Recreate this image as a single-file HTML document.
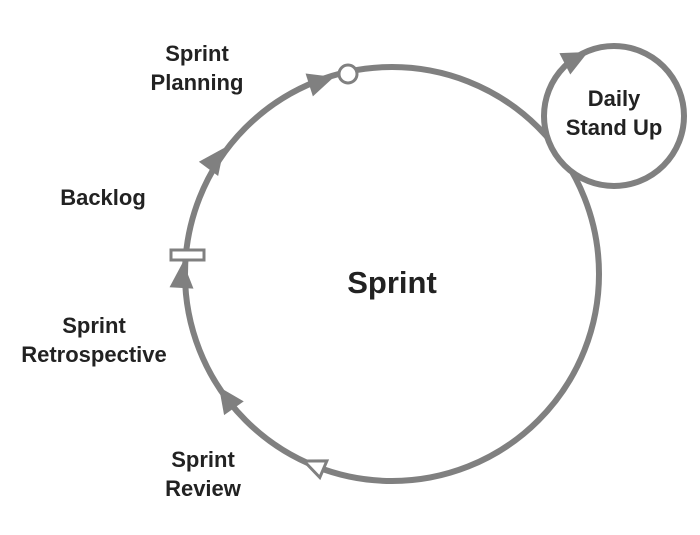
<!DOCTYPE html>
<html><head><style>
body{margin:0;background:#fff}
svg{display:block}
text{font-family:"Liberation Sans","DejaVu Sans",sans-serif;font-weight:bold;fill:#222}
</style></head><body>
<svg width="700" height="535" viewBox="0 0 700 535">
<circle cx="392" cy="274" r="207" fill="none" stroke="#808080" stroke-width="6"/>
<circle cx="614" cy="116" r="70" fill="#fff" stroke="#808080" stroke-width="6"/>
<g fill="#808080">
<polygon points="0,0 -26,-12 -26,12" transform="translate(334,77) rotate(-17.7)"/>
<polygon points="0,0 -26,-12 -26,12" transform="translate(224,148) rotate(-53.4)"/>
<polygon points="0,0 -26,-12 -26,12" transform="translate(183,262) rotate(-86.7)"/>
<polygon points="0,0 -26,-12 -26,12" transform="translate(219,387) rotate(235)"/>
<polygon points="0,0 -26,-12 -26,12" transform="translate(588,52) rotate(-27)"/>
</g>
<polygon points="0,0 21,-9 21,9" transform="translate(304,461) rotate(23)" fill="#fff" stroke="#808080" stroke-width="3"/>
<circle cx="348" cy="74" r="9" fill="#fff" stroke="#808080" stroke-width="3"/>
<rect x="171" y="250" width="33" height="10" fill="#fff" stroke="#808080" stroke-width="3"/>
<text x="392" y="293" font-size="31" text-anchor="middle">Sprint</text>
<text x="614" y="106" font-size="22" text-anchor="middle">Daily</text>
<text x="614" y="135" font-size="22" text-anchor="middle">Stand Up</text>
<text x="197" y="61" font-size="22" text-anchor="middle">Sprint</text>
<text x="197" y="90" font-size="22" text-anchor="middle">Planning</text>
<text x="103" y="205" font-size="22" text-anchor="middle">Backlog</text>
<text x="94" y="333" font-size="22" text-anchor="middle">Sprint</text>
<text x="94" y="362" font-size="22" text-anchor="middle">Retrospective</text>
<text x="203" y="467" font-size="22" text-anchor="middle">Sprint</text>
<text x="203" y="496" font-size="22" text-anchor="middle">Review</text>
</svg>
</body></html>
